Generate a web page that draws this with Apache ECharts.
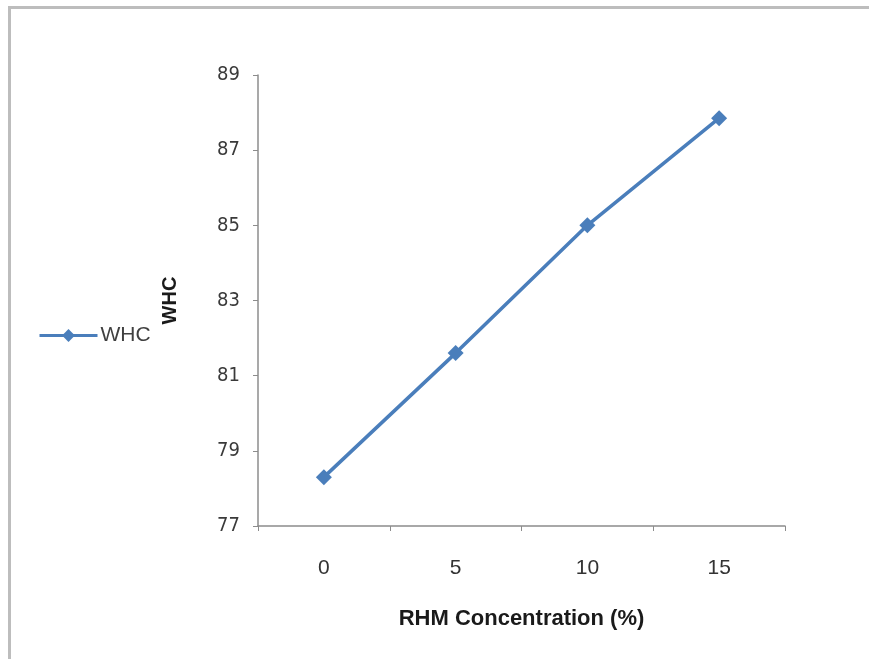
<!DOCTYPE html>
<html><head><meta charset="utf-8">
<script src="https://cdn.jsdelivr.net/npm/echarts@6/dist/echarts.min.js"></script>
<style>
html,body{margin:0;padding:0;background:#fff;}
#frame{position:absolute;left:8px;top:6px;width:900px;height:700px;border-left:3px solid #bdbdbd;border-top:3px solid #bdbdbd;}
#c{position:absolute;left:0;top:0;width:869px;height:659px;}
</style></head>
<body>
<div id="frame"></div>
<div id="c"></div>
<script>
const categories = ['0', '5', '10', '15'];
const whcValues = [78.3, 81.6, 85.0, 87.85];
const seriesName = 'WHC';
const xAxisTitle = 'RHM Concentration (%)';
const yAxisTitle = 'WHC';

const chart = echarts.init(document.getElementById('c'));
chart.setOption({
  backgroundColor: 'transparent',
  animation: false,
  grid: {left: 258, right: 84, top: 75, bottom: 133},
  legend: {
    data: [seriesName], orient: 'vertical', left: 33, top: 320,
    itemWidth: 58, itemHeight: 16, itemGap: 4,
    lineStyle: {width: 3},
    textStyle: {fontFamily: 'Liberation Sans', fontSize: 21, color: '#404040', padding: [0, 0, 0, -2]}
  },
  xAxis: {
    type: 'category', data: categories, boundaryGap: true,
    name: xAxisTitle, nameLocation: 'middle', nameGap: 82,
    nameTextStyle: {fontFamily: 'Liberation Sans', fontWeight: 'bold', fontSize: 22, color: '#1a1a1a'},
    axisLine: {lineStyle: {color: '#8c8c8c', width: 1.5}},
    axisTick: {show: true, alignWithLabel: false, length: 5, lineStyle: {color: '#8c8c8c'}},
    axisLabel: {fontFamily: 'Liberation Sans', fontSize: 21, color: '#333', margin: 32}
  },
  yAxis: {
    type: 'value', min: 77, max: 89, interval: 2,
    name: yAxisTitle, nameLocation: 'middle', nameGap: 78, nameRotate: 90,
    nameTextStyle: {fontFamily: 'Liberation Sans', fontWeight: 'bold', fontSize: 20, color: '#1a1a1a'},
    axisLine: {show: true, lineStyle: {color: '#8c8c8c', width: 1.5}},
    axisTick: {show: true, length: 5, lineStyle: {color: '#8c8c8c'}},
    splitLine: {show: false},
    axisLabel: {fontFamily: '"DejaVu Sans Condensed", "Liberation Sans"', fontSize: 20, color: '#3a3a3a', margin: 18}
  },
  series: [{
    name: seriesName, type: 'line', data: whcValues,
    symbol: 'diamond', symbolSize: 16,
    lineStyle: {color: '#4a7ebb', width: 3.5},
    itemStyle: {color: '#4a7ebb'}
  }]
});
</script>
</body></html>
